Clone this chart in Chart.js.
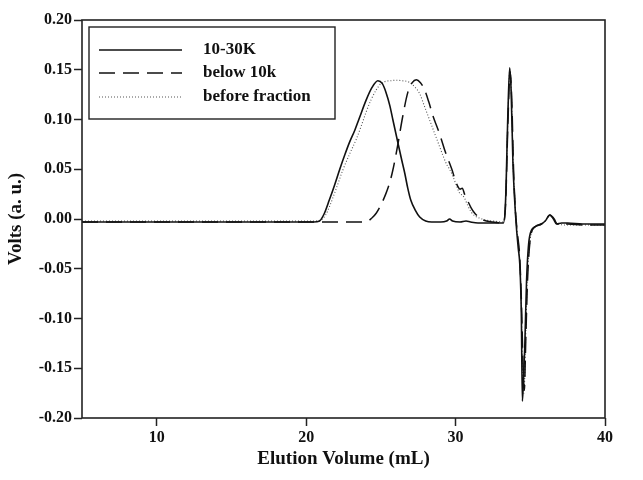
<!DOCTYPE html>
<html>
<head>
<meta charset="utf-8">
<script src="https://cdn.jsdelivr.net/npm/chart.js@4.4.0/dist/chart.umd.min.js"></script>
<style>
html, body { margin:0; padding:0; background:#fff; }
#wrap { width:643px; height:480px; }
</style>
</head>
<body>
<div id="wrap"><canvas id="elutionChart" width="643" height="480"></canvas></div>
<script>
var seriesNames = ['10-30K', 'below 10k', 'before fraction'];
var xTickValues = [10, 20, 30, 40];
var yTickValues = [-0.20, -0.15, -0.10, -0.05, 0.00, 0.05, 0.10, 0.15, 0.20];

// 10-30K (solid)
var solidX = [5, 10, 15, 19, 20.5, 20.9, 21.2, 21.55, 21.9, 22.25, 22.6, 22.9, 23.25, 23.55, 24.0,
	24.4, 24.8, 25.1, 25.35, 25.6, 25.8, 26.15, 26.4, 26.6, 26.8, 27.0, 27.3, 27.6, 28.0, 28.4,
	29.0, 29.4, 29.6, 29.8, 30.3, 30.7, 31.0, 31.5, 32.5, 33.2, 33.35, 33.5, 33.62, 33.72, 33.84,
	33.95, 34.07, 34.2, 34.3, 34.4, 34.47, 34.55, 34.63, 34.75, 34.95, 35.3, 35.75, 36.0, 36.3, 36.55,
	36.75, 37.1, 37.5, 38.5, 40];
var solidY = [-0.003, -0.003, -0.003, -0.003, -0.003, -0.002, 0.005, 0.019, 0.034, 0.050, 0.065, 0.077, 0.089, 0.101, 0.119,
	0.132, 0.139, 0.136, 0.127, 0.114, 0.100, 0.076, 0.059, 0.046, 0.031, 0.019, 0.009, 0.002, -0.002, -0.003,
	-0.003, -0.002, 0.000, -0.002, -0.003, -0.002, -0.003, -0.004, -0.004, -0.004, 0.020, 0.105, 0.152, 0.128, 0.056,
	0.020, -0.008, -0.030, -0.046, -0.095, -0.183, -0.160, -0.129, -0.062, -0.018, -0.008, -0.005, -0.002, 0.004, 0.000,
	-0.005, -0.004, -0.004, -0.005, -0.005];

// below 10k (dashed)
var dashX = [5, 10, 15, 20, 22, 23, 24.0, 24.4, 24.7, 25.0, 25.35, 25.6, 25.8, 26.15, 26.45,
	26.8, 27.1, 27.37, 27.65, 27.92, 28.2, 28.5, 28.8, 29.05, 29.3, 29.6, 29.75, 30.05, 30.3, 30.45,
	30.6, 30.82, 31.05, 31.27, 31.55, 31.85, 32.5, 33.17, 33.35, 33.5, 33.65, 33.76, 33.88, 34.0, 34.12,
	34.3, 34.42, 34.52, 34.6, 34.7, 34.82, 35.0, 35.3, 35.75, 36.0, 36.32, 36.6, 36.8, 37.5, 38.5, 40];
var dashY = [-0.003, -0.003, -0.003, -0.003, -0.003, -0.003, -0.003, 0.001, 0.006, 0.014, 0.026, 0.037, 0.049, 0.076, 0.102,
	0.127, 0.137, 0.140, 0.137, 0.130, 0.118, 0.103, 0.091, 0.080, 0.068, 0.056, 0.050, 0.036, 0.030, 0.031,
	0.025, 0.018, 0.011, 0.006, 0.002, -0.001, -0.003, -0.004, 0.015, 0.095, 0.148, 0.120, 0.050, 0.010, -0.012,
	-0.040, -0.090, -0.150, -0.172, -0.120, -0.060, -0.020, -0.008, -0.005, -0.002, 0.004, 0.000, -0.005, -0.005, -0.006, -0.006];

// before fraction (dotted)
var dotX = [5, 10, 15, 19, 20.5, 21.0, 21.3, 21.55, 22.0, 22.45, 22.9, 23.35, 23.7, 24.0, 24.35,
	24.7, 25.0, 25.35, 25.7, 26.0, 26.4, 26.9, 27.25, 27.6, 27.9, 28.25, 28.6, 28.95, 29.2, 29.4,
	29.6, 29.82, 30.05, 30.27, 30.45, 30.6, 30.8, 31.05, 31.3, 31.6, 32.0, 32.5, 33.17, 33.35, 33.5,
	33.63, 33.74, 33.86, 33.98, 34.1, 34.28, 34.4, 34.5, 34.58, 34.68, 34.8, 35.0, 35.3, 35.75, 36.0,
	36.3, 36.6, 36.8, 37.5, 38.5, 40];
var dotY = [-0.002, -0.002, -0.002, -0.002, -0.002, -0.001, 0.004, 0.012, 0.030, 0.049, 0.065, 0.080, 0.094, 0.107, 0.120,
	0.130, 0.136, 0.1385, 0.139, 0.1395, 0.139, 0.1375, 0.133, 0.126, 0.114, 0.100, 0.086, 0.072, 0.062, 0.055,
	0.050, 0.043, 0.034, 0.026, 0.024, 0.021, 0.014, 0.007, 0.003, 0.001, -0.001, -0.002, -0.003, 0.018, 0.100,
	0.150, 0.125, 0.052, 0.015, -0.010, -0.040, -0.085, -0.165, -0.175, -0.125, -0.060, -0.020, -0.008, -0.005, -0.002,
	0.004, 0.000, -0.005, -0.006, -0.006, -0.006];

var elution = {};
elution.font = "'Liberation Serif', 'Times New Roman', serif";

elution.toPoints = function(xs, ys){
	return xs.map(function(x, i){ return {x: x, y: ys[i]}; });
};

elution.lineStyles = [
	{color: '#111', width: 1.6, dash: []},
	{color: '#111', width: 1.5, dash: [16, 8]},
	{color: '#555', width: 1.1, dash: [1, 2]}
];

// frame round the plot + boxed legend with line samples
elution.framePlugin = {
	id: 'frameLegend',
	afterDraw: function(chart){
		var ctx = chart.ctx;
		var a = chart.chartArea;
		ctx.save();
		ctx.strokeStyle = '#222';
		ctx.lineWidth = 1.6;
		ctx.setLineDash([]);
		ctx.strokeRect(a.left, a.top, a.right - a.left, a.bottom - a.top);

		var bx = a.left + 7, by = a.top + 7;
		ctx.lineWidth = 1.4;
		ctx.strokeRect(bx, by, 246, 92);

		ctx.font = 'bold 17px ' + elution.font;
		ctx.fillStyle = '#111';
		ctx.textBaseline = 'middle';
		var rows = [23, 46, 70];
		for (var i = 0; i < seriesNames.length; i++)
		{
			var st = elution.lineStyles[i];
			var ry = by + rows[i];
			ctx.strokeStyle = st.color;
			ctx.lineWidth = st.width;
			ctx.setLineDash(st.dash);
			ctx.beginPath();
			ctx.moveTo(bx + 10, ry);
			ctx.lineTo(bx + 93, ry);
			ctx.stroke();
			ctx.fillText(seriesNames[i], bx + 114, ry);
		}
		ctx.restore();
	}
};

elution.init = function(){
	var sets = [[solidX, solidY], [dashX, dashY], [dotX, dotY]];
	var datasets = [];
	for (var i = 0; i < sets.length; i++)
	{
		var st = elution.lineStyles[i];
		datasets.push({
			label: seriesNames[i],
			data: elution.toPoints(sets[i][0], sets[i][1]),
			borderColor: st.color,
			borderWidth: st.width,
			borderDash: st.dash,
			pointRadius: 0,
			fill: false,
			cubicInterpolationMode: 'monotone'
		});
	}

	var tickFont = {family: elution.font, size: 16, weight: 'bold'};
	var titleFont = {family: elution.font, size: 19, weight: 'bold'};

	elution.chart = new Chart(document.getElementById('elutionChart'), {
		type: 'line',
		data: {datasets: datasets},
		plugins: [elution.framePlugin],
		options: {
			responsive: false,
			animation: false,
			devicePixelRatio: 1,
			layout: {padding: {top: 20, right: 38, left: 0, bottom: 0}},
			plugins: {legend: {display: false}, tooltip: {enabled: false}},
			scales: {
				x: {
					type: 'linear',
					min: 5,
					max: 40,
					afterBuildTicks: function(scale){
						scale.ticks = xTickValues.map(function(v){ return {value: v}; });
					},
					afterFit: function(scale){ scale.height = 62; },
					grid: {drawOnChartArea: false, drawTicks: true, tickLength: 8, tickColor: '#222', tickWidth: 1.5},
					border: {display: false},
					ticks: {color: '#111', font: tickFont, padding: 2, maxRotation: 0},
					title: {display: true, text: 'Elution Volume (mL)', color: '#111', font: titleFont, padding: {top: 0, bottom: 10}}
				},
				y: {
					type: 'linear',
					min: -0.20,
					max: 0.20,
					afterBuildTicks: function(scale){
						scale.ticks = yTickValues.map(function(v){ return {value: v}; });
					},
					afterFit: function(scale){ scale.width = 82; },
					grid: {drawOnChartArea: false, drawTicks: true, tickLength: 8, tickColor: '#222', tickWidth: 1.5},
					border: {display: false},
					ticks: {
						color: '#111',
						font: tickFont,
						padding: 2,
						callback: function(v){ return Number(v).toFixed(2); }
					},
					title: {display: true, text: 'Volts (a. u.)', color: '#111', font: titleFont, padding: {top: 5, bottom: 0}}
				}
			}
		}
	});
};

elution.init();
</script>
</body>
</html>
